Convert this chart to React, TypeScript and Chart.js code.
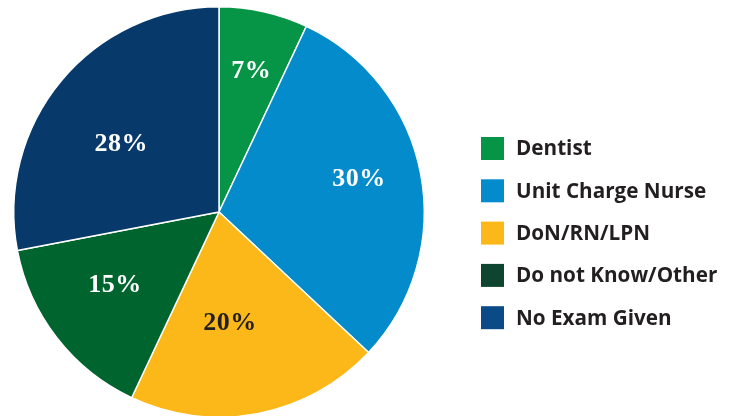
import React, { useEffect, useRef } from "react";
import { Chart, registerables } from "chart.js";

Chart.register(...registerables);

const categories = ["Dentist", "Unit Charge Nurse", "DoN/RN/LPN", "Do not Know/Other", "No Exam Given"];
const values = [7, 30, 20, 15, 28];
const valueLabels = ["7%", "30%", "20%", "15%", "28%"];
const sliceColors = ["#069547", "#038bcb", "#fbb818", "#00642f", "#073a6b"];
const legendColors = ["#069547", "#038bcb", "#fbb818", "#0e4430", "#0a4a86"];
const labelTextColors = ["#ffffff", "#ffffff", "#231f20", "#ffffff", "#ffffff"];
const labelRadius = [0.71, 0.70, 0.54, 0.62, 0.585];
const labelAngleShift = [0, -2.9, 5.3, 3.1, -4.6];

const labelPlugin = {
  id: "sliceLabels",
  afterDatasetsDraw(chart: any) {
    const ctx = chart.ctx;
    const meta = chart.getDatasetMeta(0);
    ctx.save();
    ctx.font = "bold 26px 'Liberation Serif'";
    (ctx as any).letterSpacing = "0.5px";
    ctx.textAlign = "center";
    ctx.textBaseline = "middle";
    meta.data.forEach((arc: any, i: number) => {
      const p = arc.getProps(["x", "y", "startAngle", "endAngle", "outerRadius"], true);
      const mid = (p.startAngle + p.endAngle) / 2 + (labelAngleShift[i] * Math.PI) / 180;
      const r = p.outerRadius * labelRadius[i];
      ctx.fillStyle = labelTextColors[i];
      ctx.fillText(valueLabels[i], p.x + Math.cos(mid) * r + 0.5, p.y + Math.sin(mid) * r + 1);
    });
    ctx.restore();
  },
};

const legendPlugin = {
  id: "sideLegend",
  afterDraw(chart: any) {
    const ctx = chart.ctx;
    ctx.save();
    ctx.font = "bold 20.7px 'Open Sans'";
    ctx.textBaseline = "middle";
    ctx.textAlign = "left";
    const x0 = 481;
    const y0 = 148.5;
    const step = 42.3;
    categories.forEach((c, i) => {
      const cy = y0 + i * step;
      ctx.fillStyle = legendColors[i];
      ctx.fillRect(x0, cy - 11.5, 23, 23);
      ctx.fillStyle = "#231f20";
      ctx.fillText(c, x0 + 35, cy + 1);
    });
    ctx.restore();
  },
};

export default function App() {
  const ref = useRef<HTMLCanvasElement>(null);
  useEffect(() => {
    if (!ref.current) return;
    const chart = new Chart(ref.current, {
      type: "pie",
      data: {
        labels: categories,
        datasets: [
          {
            data: values,
            backgroundColor: sliceColors,
            borderColor: "#ffffff",
            borderWidth: 1.5,
          },
        ],
      },
      options: {
        animation: false,
        responsive: false,
        layout: { padding: { left: 13, right: 310, top: 6, bottom: 0 } },
        plugins: {
          legend: { display: false },
          tooltip: { enabled: false },
        },
      },
      plugins: [labelPlugin, legendPlugin],
    });
    return () => chart.destroy();
  }, []);
  return (
    <div style={{ position: "fixed", left: 0, top: 0, width: 735, height: 416, overflow: "hidden", background: "#fff" }}>
      <canvas ref={ref} width={735} height={418} style={{ width: 735, height: 418, display: "block" }} />
    </div>
  );
}
